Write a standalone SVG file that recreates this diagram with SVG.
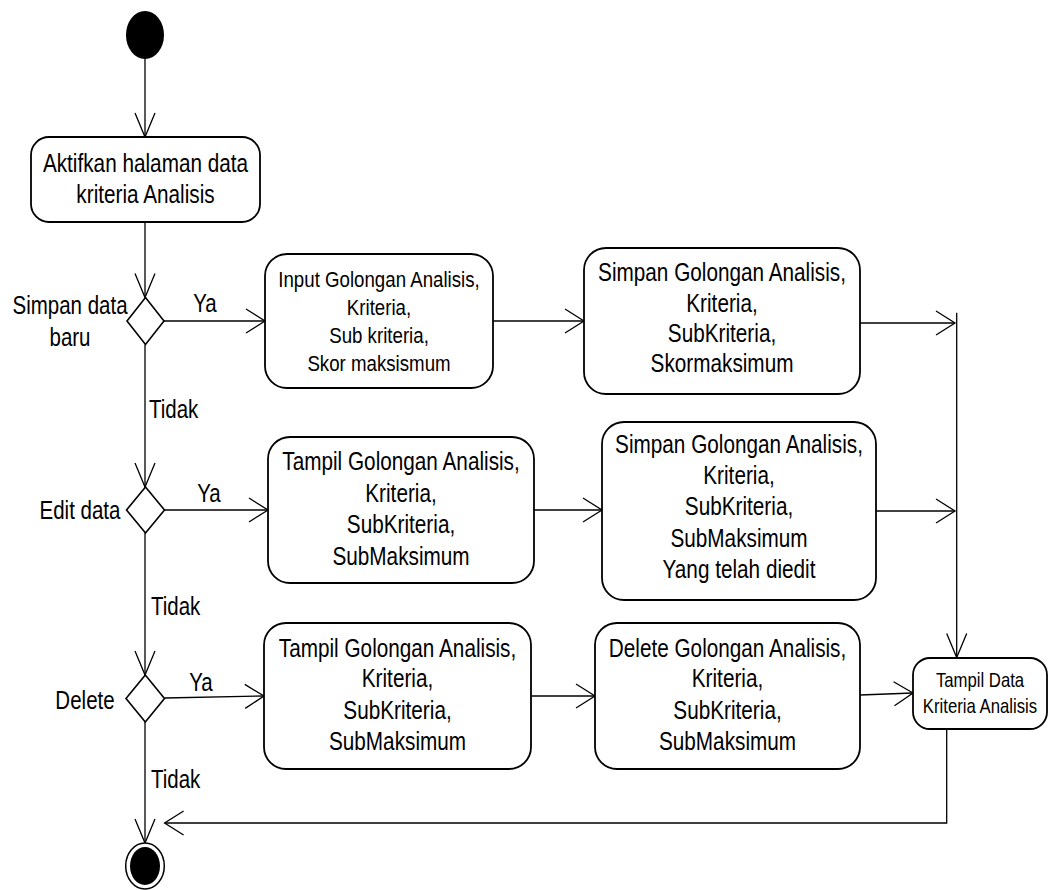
<svg xmlns="http://www.w3.org/2000/svg" width="1049" height="890" viewBox="0 0 1049 890">
  <style>
    .bg { fill: #ffffff; }
    .act { fill: #ffffff; stroke: #000000; stroke-width: 1.8; }
    .dec { fill: #ffffff; stroke: #000000; stroke-width: 1.6; }
    .flow { fill: none; stroke: #000000; stroke-width: 1.3; }
    .flowH { marker-end: url(#arrH); }
    .flowV { marker-end: url(#arrV); }
    text { font-family: "Liberation Sans", Arial, sans-serif; fill: #000000; }
    .t { font-size: 25.3px; text-anchor: middle; }
    .ts { font-size: 22.8px; text-anchor: middle; }
    .tx { font-size: 20.4px; text-anchor: middle; }
    .lbl { font-size: 25px; }
    .lblc { font-size: 25px; text-anchor: middle; }
  </style>
  <defs>
    <!-- open arrowheads: horizontal flows are wider, vertical flows longer -->
    <marker id="arrH" markerUnits="userSpaceOnUse" markerWidth="24" markerHeight="28" refX="20" refY="13" orient="auto" overflow="visible">
      <path d="M1,1 L20,13 L1,25" fill="none" stroke="#000" stroke-width="1.3"/>
    </marker>
    <marker id="arrV" markerUnits="userSpaceOnUse" markerWidth="28" markerHeight="24" refX="25" refY="11" orient="auto" overflow="visible">
      <path d="M1,1 L25,11 L1,21" fill="none" stroke="#000" stroke-width="1.3"/>
    </marker>
  </defs>
  <rect class="bg" x="0" y="0" width="1049" height="890"/>

  <!-- connectors -->
  <g id="connectors">
    <line class="flow flowV" x1="145" y1="59" x2="145" y2="137"/>
    <line class="flow flowV" x1="145" y1="222" x2="145" y2="297.5"/>
    <line class="flow flowH" x1="163.5" y1="321" x2="265" y2="321"/>
    <line class="flow flowH" x1="493" y1="321" x2="584" y2="321"/>
    <line class="flow flowH" x1="860" y1="323" x2="955" y2="323"/>
    <line class="flow flowV" x1="956.7" y1="312.7" x2="956.7" y2="657.5"/>
    <line class="flow flowV" x1="145" y1="344.5" x2="145" y2="487"/>
    <line class="flow flowH" x1="164.5" y1="510" x2="268" y2="510"/>
    <line class="flow flowH" x1="534" y1="510" x2="602" y2="510"/>
    <line class="flow flowH" x1="876" y1="511" x2="955" y2="511"/>
    <line class="flow flowV" x1="145" y1="533" x2="145" y2="675"/>
    <line class="flow flowH" x1="164.6" y1="698" x2="264" y2="696"/>
    <line class="flow flowH" x1="531" y1="696" x2="595" y2="696"/>
    <line class="flow flowH" x1="860" y1="695" x2="913" y2="693"/>
    <polyline class="flow flowH" points="946.7,729 946.7,823 164.6,823"/>
    <line class="flow flowV" x1="145" y1="722" x2="145" y2="843"/>

    <text class="lblc" x="205" y="312" transform="translate(205 0) scale(0.82 1) translate(-205 0)">Ya</text>
    <text class="lblc" x="209" y="502" transform="translate(209 0) scale(0.82 1) translate(-209 0)">Ya</text>
    <text class="lblc" x="201" y="691" transform="translate(201 0) scale(0.82 1) translate(-201 0)">Ya</text>
    <text class="lbl" x="149" y="418" transform="translate(149 0) scale(0.82 1) translate(-149 0)">Tidak</text>
    <text class="lbl" x="151" y="615" transform="translate(151 0) scale(0.82 1) translate(-151 0)">Tidak</text>
    <text class="lbl" x="151" y="788" transform="translate(151 0) scale(0.82 1) translate(-151 0)">Tidak</text>
  </g>

  <!-- start / end -->
  <g id="start">
    <ellipse cx="145" cy="35" rx="19" ry="24" fill="#000"/>
  </g>
  <g id="end">
    <ellipse cx="145" cy="866" rx="19.3" ry="23" fill="#fff" stroke="#000" stroke-width="1.5"/>
    <ellipse cx="145" cy="866" rx="15" ry="19" fill="#000"/>
  </g>

  <!-- activities -->
  <g id="aktifkan">
    <rect class="act" x="31" y="137" width="229" height="85" rx="18"/>
    <g transform="translate(145.5 0) scale(0.82 1)">
      <text class="t" x="0" y="172">Aktifkan halaman data</text>
      <text class="t" x="0" y="203">kriteria Analisis</text>
    </g>
  </g>

  <g id="dec-simpan">
    <polygon class="dec" points="145.5,297.5 164,321 145.5,344.5 127,321"/>
    <g transform="translate(70 0) scale(0.82 1)">
      <text class="lblc" x="0" y="314">Simpan data</text>
      <text class="lblc" x="0" y="346">baru</text>
    </g>
  </g>

  <g id="input">
    <rect class="act" x="265" y="254" width="228" height="134" rx="22"/>
    <g transform="translate(379 0) scale(0.82 1)">
      <text class="ts" x="0" y="287">Input Golongan Analisis,</text>
      <text class="ts" x="0" y="315">Kriteria,</text>
      <text class="ts" x="0" y="343">Sub kriteria,</text>
      <text class="ts" x="0" y="371">Skor maksismum</text>
    </g>
  </g>

  <g id="simpan-baru">
    <rect class="act" x="584" y="248" width="276" height="146" rx="22"/>
    <g transform="translate(722 0) scale(0.82 1)">
      <text class="t" x="0" y="281">Simpan Golongan Analisis,</text>
      <text class="t" x="0" y="312">Kriteria,</text>
      <text class="t" x="0" y="342">SubKriteria,</text>
      <text class="t" x="0" y="372">Skormaksimum</text>
    </g>
  </g>

  <g id="dec-edit">
    <polygon class="dec" points="145.5,487 164.5,510 145.5,533 126.5,510"/>
    <text class="lblc" x="80" y="519" transform="translate(80 0) scale(0.82 1) translate(-80 0)">Edit data</text>
  </g>

  <g id="tampil-edit">
    <rect class="act" x="268" y="437" width="266" height="146" rx="22"/>
    <g transform="translate(401 0) scale(0.82 1)">
      <text class="t" x="0" y="470">Tampil Golongan Analisis,</text>
      <text class="t" x="0" y="502">Kriteria,</text>
      <text class="t" x="0" y="533">SubKriteria,</text>
      <text class="t" x="0" y="565">SubMaksimum</text>
    </g>
  </g>

  <g id="simpan-edit">
    <rect class="act" x="602" y="422" width="274" height="178" rx="22"/>
    <g transform="translate(739 0) scale(0.82 1)">
      <text class="t" x="0" y="453">Simpan Golongan Analisis,</text>
      <text class="t" x="0" y="484">Kriteria,</text>
      <text class="t" x="0" y="515">SubKriteria,</text>
      <text class="t" x="0" y="547">SubMaksimum</text>
      <text class="t" x="0" y="578">Yang telah diedit</text>
    </g>
  </g>

  <g id="dec-delete">
    <polygon class="dec" points="145.3,675 164.5,698.5 145.3,722 126,698.5"/>
    <text class="lblc" x="85" y="709" transform="translate(85 0) scale(0.82 1) translate(-85 0)">Delete</text>
  </g>

  <g id="tampil-delete">
    <rect class="act" x="264" y="623" width="267" height="146" rx="22"/>
    <g transform="translate(397.5 0) scale(0.82 1)">
      <text class="t" x="0" y="657">Tampil Golongan Analisis,</text>
      <text class="t" x="0" y="687">Kriteria,</text>
      <text class="t" x="0" y="719">SubKriteria,</text>
      <text class="t" x="0" y="750">SubMaksimum</text>
    </g>
  </g>

  <g id="hapus">
    <rect class="act" x="595" y="623" width="265" height="146" rx="22"/>
    <g transform="translate(727.5 0) scale(0.82 1)">
      <text class="t" x="0" y="657">Delete Golongan Analisis,</text>
      <text class="t" x="0" y="687">Kriteria,</text>
      <text class="t" x="0" y="719">SubKriteria,</text>
      <text class="t" x="0" y="750">SubMaksimum</text>
    </g>
  </g>

  <g id="tampil-data">
    <rect class="act" x="913" y="658" width="134" height="71" rx="17"/>
    <g transform="translate(980 0) scale(0.82 1)">
      <text class="tx" x="0" y="687">Tampil Data</text>
      <text class="tx" x="0" y="713">Kriteria Analisis</text>
    </g>
  </g>
</svg>
